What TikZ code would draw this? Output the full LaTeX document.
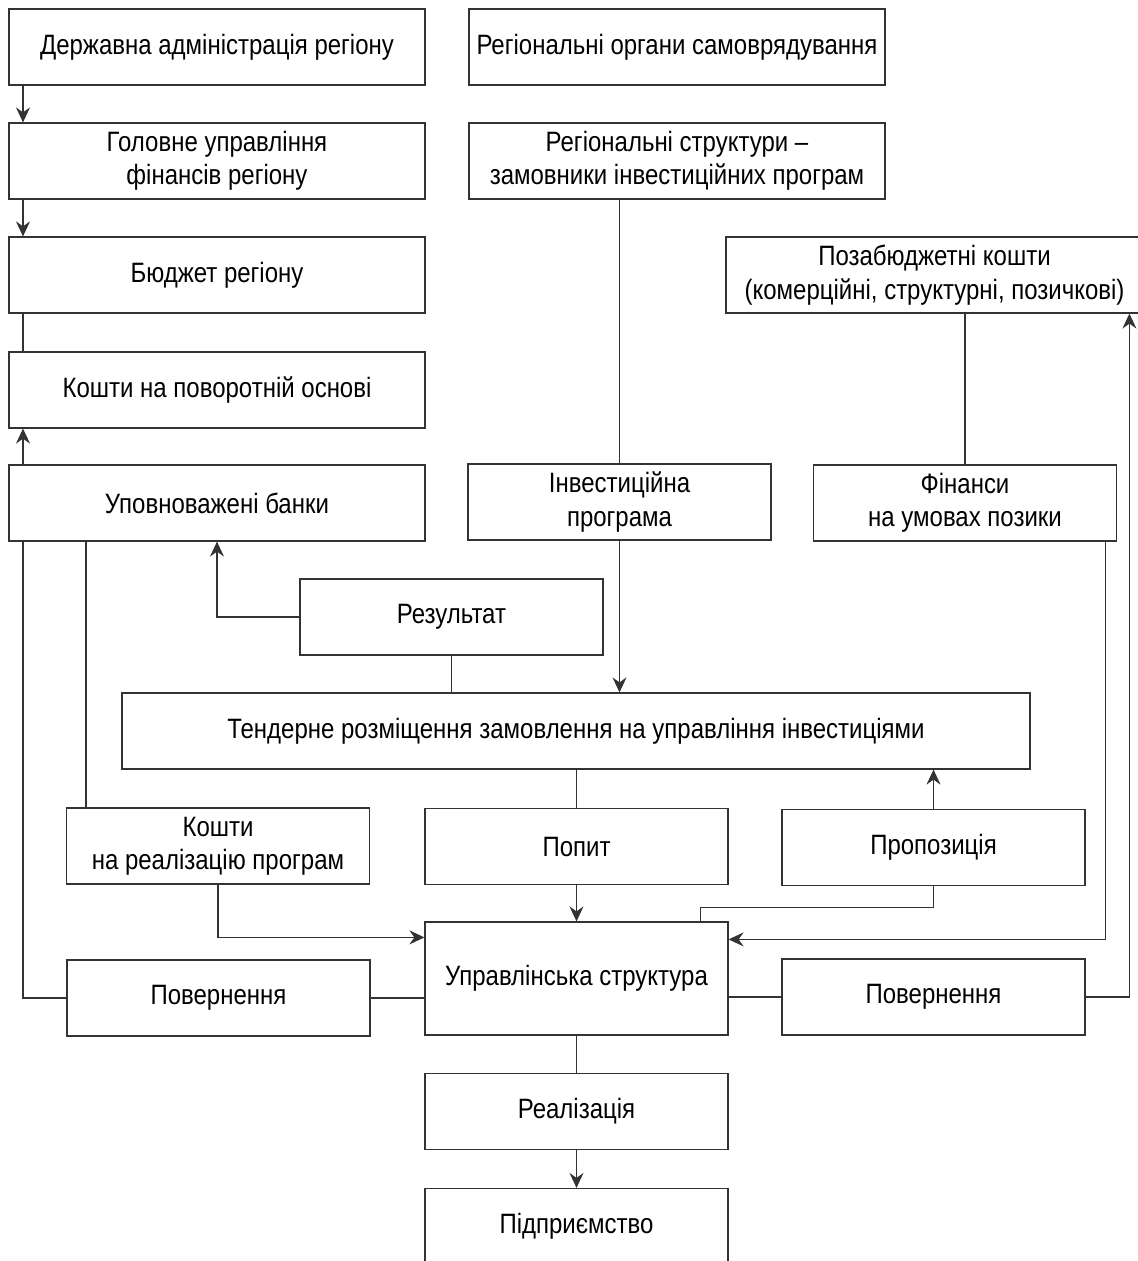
\documentclass[tikz,border=0pt]{standalone}
\usepackage{fontspec}
\setmainfont{Liberation Sans}[FakeStretch = 0.857]
\colorlet{BlockLine}{black!80}
\usetikzlibrary{calc, arrows.meta}
\tikzset{
  Block/.style = {draw = BlockLine, line width = 0.6pt, align = center,
    inner sep = 0pt, minimum height = 38pt,
    font = \fontsize{14}{16.7}\selectfont},
  WideBlock/.style = {Block, minimum width = 208pt},
  SmallBlock/.style = {Block, minimum width = 151.5pt},
  Link/.style = {draw = BlockLine, line width = 0.6pt},
  Arrow/.style = {Link, -{Stealth[length = 7.5pt, width = 7pt, inset = 2.5pt]}},
}

\begin{document}
\begin{tikzpicture}[x = 0.5pt, y = -0.5pt]
\useasboundingbox (0, 0) rectangle (1137, 1261);

% left column
\node[WideBlock] (Adm) at (217, 47) {Державна адміністрація регіону};
\node[WideBlock] (Fin) at (217, 161) {Головне управління\\фінансів регіону};
\node[WideBlock] (Bud) at (217, 275) {Бюджет регіону};
\node[WideBlock] (Ret) at (217, 390) {Кошти на поворотній основі};
\node[WideBlock] (Bank) at (217, 503) {Уповноважені банки};

% right part
\node[WideBlock] (Org) at (677, 47) {Регіональні органи самоврядування};
\node[WideBlock] (Cust) at (677, 161) {Регіональні структури –\\замовники інвестиційних програм};
\node[Block, minimum width = 208.5pt] (Extra) at (934.5, 275)
  {Позабюджетні кошти\\(комерційні, структурні, позичкові)};
\node[SmallBlock] (Prog) at (619.5, 502) {Інвестиційна\\програма};
\node[SmallBlock] (Loan) at (965, 503) {Фінанси\\на умовах позики};
\node[SmallBlock] (Res) at (451.5, 617) {Результат};
\node[Block, minimum width = 454pt] (Tend) at (576, 731)
  {Тендерне розміщення замовлення на управління інвестиціями};

% lower part
\node[SmallBlock] (Impl) at (218, 846) {Кошти\\на реалізацію програм};
\node[SmallBlock] (Dem) at (576.5, 846.5) {Попит};
\node[SmallBlock] (Sup) at (933.5, 847.5) {Пропозиція};
\node[SmallBlock, minimum height = 56.5pt] (Mgmt) at (576.5, 978.5) {Управлінська структура};
\node[SmallBlock] (BackL) at (218.5, 998) {Повернення};
\node[SmallBlock] (BackR) at (933.5, 997) {Повернення};
\node[SmallBlock] (Real) at (576.5, 1111.5) {Реалізація};
\node[SmallBlock] (Firm) at (576.5, 1226.5) {Підприємство};

\coordinate (L) at (23, 0);
\coordinate (LL) at (86, 0);

\draw[Arrow] (L |- Adm.south) -- (L |- Fin.north);
\draw[Arrow] (L |- Fin.south) -- (L |- Bud.north);
\draw[Link] (L |- Bud.south) -- (L |- Ret.north);
\draw[Arrow] (L |- Bank.north) -- (L |- Ret.south);
\draw[Link] (BackL.west) -| (L |- Bank.south);
\draw[Link] (LL |- Impl.north) -- (LL |- Bank.south);
\draw[Arrow] (Res.west) -| (Bank.south);
\draw[Link] (Res.south) -- (Res.south |- Tend.north);

\draw[Link] (Cust.south -| Prog.north) -- (Prog.north);
\draw[Arrow] (Prog.south) -- (Prog.south |- Tend.north);
\draw[Link] (Extra.south -| Loan.north) -- (Loan.north);
\draw[Arrow] ($(Loan.south east) + (-12, 0)$) |- ($(Mgmt.north east) + (0, 18)$);
\draw[Arrow] (BackR.east) -| ($(Extra.south west) + (404, 0)$);

\draw[Link] (Dem.north |- Tend.south) -- (Dem.north);
\draw[Arrow] (Dem.south) -- (Mgmt.north);
\draw[Arrow] (Sup.north) -- (Sup.north |- Tend.south);
\draw[Link] (Sup.south) -- ++(0, 21) -| ($(Mgmt.north east) + (-28, 0)$);
\draw[Arrow] (Impl.south) |- ($(Mgmt.north west) + (0, 16)$);
\draw[Link] (BackL.east) -- (BackL.east -| Mgmt.west);
\draw[Link] (Mgmt.east |- BackR.west) -- (BackR.west);
\draw[Link] (Mgmt.south) -- (Real.north);
\draw[Arrow] (Real.south) -- (Firm.north);

\end{tikzpicture}
\end{document}
